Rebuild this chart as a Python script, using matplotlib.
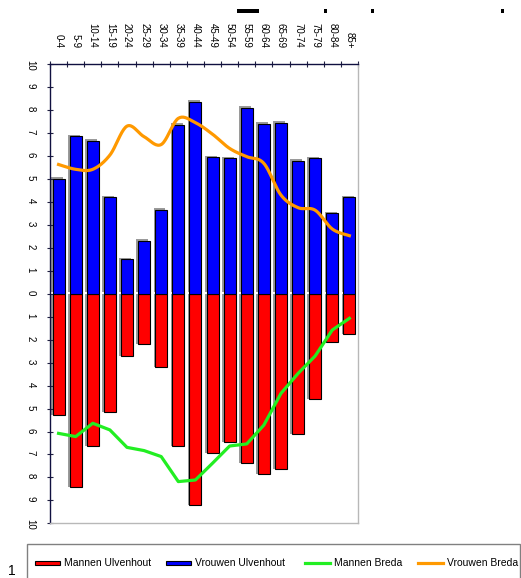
import numpy as np
import matplotlib
matplotlib.use("Agg")
import matplotlib.pyplot as plt
from matplotlib.patches import Rectangle
from matplotlib.lines import Line2D

plt.rcParams["font.family"] = ["Liberation Sans", "DejaVu Sans"]

age_groups = ["0-4", "5-9", "10-14", "15-19", "20-24", "25-29", "30-34", "35-39",
              "40-44", "45-49", "50-54", "55-59", "60-64", "65-69", "70-74",
              "75-79", "80-84", "85+"]

# percentages per age group (men drawn below zero)
mannen_ulvenhout = [5.3, 8.4, 6.65, 5.15, 2.7, 2.2, 3.2, 6.65, 9.2, 6.95, 6.45,
                    7.35, 7.85, 7.65, 6.1, 4.6, 2.1, 1.75]
vrouwen_ulvenhout = [5.0, 6.85, 6.65, 4.2, 1.5, 2.3, 3.65, 7.35, 8.35, 5.95, 5.9,
                     8.1, 7.4, 7.45, 5.8, 5.9, 3.5, 4.2]
mannen_breda = [6.08, 6.22, 5.64, 5.93, 6.69, 6.83, 7.09, 8.18, 8.11, 7.38, 6.63,
                6.54, 5.72, 4.34, 3.47, 2.71, 1.58, 1.07]
vrouwen_breda = [5.63, 5.42, 5.42, 6.04, 7.3, 6.84, 6.5, 7.64, 7.45, 6.95, 6.33,
                 5.97, 5.68, 4.3, 3.75, 3.64, 2.82, 2.53]

y_ticks = list(range(-10, 11))
y_labels = [str(abs(t)) for t in y_ticks]

RED = "#ff0000"
BLUE = "#0000ff"
GREEN = "#22ee22"
ORANGE = "#ff9900"
SHADOW = "#9a9a9a"


def smooth(xs, ys, steps=20):
    # Catmull-Rom curve through the points, like a smoothed line series
    p = np.column_stack([xs, ys]).astype(float)
    p = np.vstack([p[0], p, p[-1]])
    out = []
    for i in range(1, len(p) - 2):
        p0, p1, p2, p3 = p[i - 1], p[i], p[i + 1], p[i + 2]
        t = np.linspace(0, 1, steps, endpoint=False)[:, None]
        seg = 0.5 * ((2 * p1) + (-p0 + p2) * t
                     + (2 * p0 - 5 * p1 + 4 * p2 - p3) * t ** 2
                     + (-p0 + 3 * p1 - 3 * p2 + p3) * t ** 3)
        out.append(seg)
    out.append(p[-2][None, :])
    out = np.vstack(out)
    return out[:, 0], out[:, 1]


fig = plt.figure(figsize=(5.21, 5.78), dpi=100)
ax = fig.add_axes([0.096, 0.0945, 0.591, 0.7945])

x = np.arange(len(age_groups))
men = -np.array(mannen_ulvenhout)
women = np.array(vrouwen_ulvenhout)
w = 0.7

# drop shadows behind the bars
ax.bar(x - 0.1, women, width=w, bottom=0.07, color=SHADOW, zorder=1)
ax.bar(x - 0.1, men, width=w, bottom=0.0, color=SHADOW, zorder=1)
ax.bar(x, men, width=w, color=RED, edgecolor="black", linewidth=0.8, zorder=2)
ax.bar(x, women, width=w, color=BLUE, edgecolor="black", linewidth=0.8, zorder=2)

ax.plot(x, -np.array(mannen_breda), color=GREEN, lw=2.3, zorder=3,
        solid_joinstyle="round")
sx, sy = smooth(x, vrouwen_breda)
ax.plot(sx, sy, color=ORANGE, lw=2.3, zorder=3)

ax.set_xlim(-0.5, len(age_groups) - 0.5)
ax.set_ylim(-10, 10)

# category axis along the top
ax.xaxis.tick_top()
ax.set_xticks(x)
ax.set_xticklabels(age_groups, rotation=-90, fontsize=7, va="bottom", ha="center")
ax.set_xticks(np.arange(-0.5, len(age_groups)), minor=True)
ax.tick_params(axis="x", which="major", length=0, pad=11.5)
ax.tick_params(axis="x", which="minor", length=5, direction="inout",
               width=0.8, color="#202040")

ax.set_yticks(y_ticks)
ax.set_yticklabels(y_labels, rotation=-90, fontsize=7)
ax.tick_params(axis="y", length=5, direction="inout", width=0.8,
               color="#202040", pad=8)

for side in ("left", "top"):
    ax.spines[side].set_color("#101040")
    ax.spines[side].set_linewidth(1.0)
for side in ("right", "bottom"):
    ax.spines[side].set_color("#b8b8b8")
    ax.spines[side].set_linewidth(1.0)

# legend box along the bottom edge
W, H = 521, 578


def fx(px):
    return px / W


def fy(py):
    return 1 - py / H


fig.add_artist(Rectangle((fx(27), fy(590)), fx(520) - fx(27), fy(544) - fy(590),
                         transform=fig.transFigure, facecolor="white",
                         edgecolor="#808080", linewidth=1.0))
fig.text(fx(8), fy(571), "1", fontsize=10, va="center", ha="left")

entries = [
    ("patch", RED, 35, "Mannen Ulvenhout"),
    ("patch", BLUE, 166, "Vrouwen Ulvenhout"),
    ("line", GREEN, 305, "Mannen Breda"),
    ("line", ORANGE, 418, "Vrouwen Breda"),
]
ly = 563
for kind, col, px, label in entries:
    if kind == "patch":
        fig.add_artist(Rectangle((fx(px), fy(ly + 2)), fx(25), fy(ly - 2) - fy(ly + 2),
                                 transform=fig.transFigure, facecolor=col,
                                 edgecolor="black", linewidth=0.8))
    else:
        fig.add_artist(Line2D([fx(px), fx(px + 25)], [fy(ly), fy(ly)],
                              transform=fig.transFigure, color=col, lw=2.3))
    fig.text(fx(px + 29), fy(ly), label, fontsize=7.5, va="center", ha="left")

# remnants of the clipped title strip
for x0, wd in [(237, 22), (324, 3), (371, 3), (501, 3)]:
    fig.add_artist(Rectangle((fx(x0), fy(13)), fx(wd), fy(9) - fy(13),
                             transform=fig.transFigure, facecolor="black",
                             edgecolor="none"))

fig.savefig("out.png", dpi=100, facecolor="white")
